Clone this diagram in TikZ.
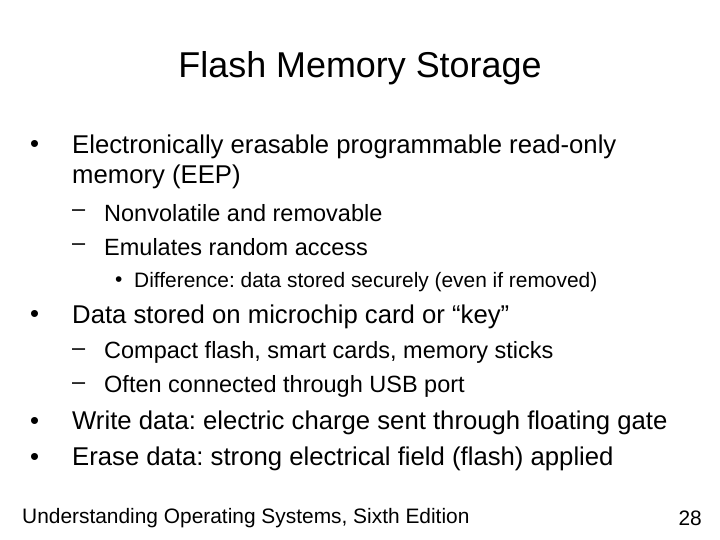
\documentclass[tikz,border=0pt]{standalone}
\usepackage{fontspec}
\setmainfont{Liberation Sans}
\frenchspacing
\begin{document}
\begin{tikzpicture}[x=1pt,y=-1pt,
  t/.style={anchor=west,inner sep=0pt},
  l1/.style={t,font=\fontsize{25.7}{30}\selectfont},
  l2/.style={t,font=\fontsize{23.5}{27}\selectfont},
  l3/.style={t,font=\fontsize{20.9}{24}\selectfont}]
\useasboundingbox[fill=white] (0,0) rectangle (720,540);
\node[inner sep=0pt,font=\fontsize{35.9}{40}\selectfont] (title) at (360,68) {Flash Memory Storage};
\node[l1] (b1) at (30,147) {•};
\node[l1] (t1) at (72,147) {Electronically erasable programmable read-only};
\node[l1] (t1b) at (72,177) {memory (EEP)};
\node[l2] (d1) at (72,213) {–};
\node[l2] (t2) at (104,213) {Nonvolatile and removable};
\node[l2] (d2) at (72,247) {–};
\node[l2] (t3) at (104,247) {Emulates random access};
\node[l3] (b3) at (115,282) {•};
\node[l3] (t4) at (134,282) {Difference: data stored securely (even if removed)};
\node[l1] (b2) at (30,317) {•};
\node[l1] (t5) at (72,317) {Data stored on microchip card or “key”};
\node[l2] (d3) at (72,352) {–};
\node[l2] (t6) at (104,352) {Compact flash, smart cards, memory sticks};
\node[l2] (d4) at (72,386) {–};
\node[l2] (t7) at (104,386) {Often connected through USB port};
\node[l1] (b4) at (30,423) {•};
\node[l1] (t8) at (72,423) {Write data: electric charge sent through floating gate};
\node[l1] (b5) at (30,459) {•};
\node[l1] (t9) at (72,459) {Erase data: strong electrical field (flash) applied};
\node[l3] (f1) at (22,518) {Understanding Operating Systems, Sixth Edition};
\node[l3,anchor=east] (f2) at (702,518) {28};
\end{tikzpicture}
\end{document}
